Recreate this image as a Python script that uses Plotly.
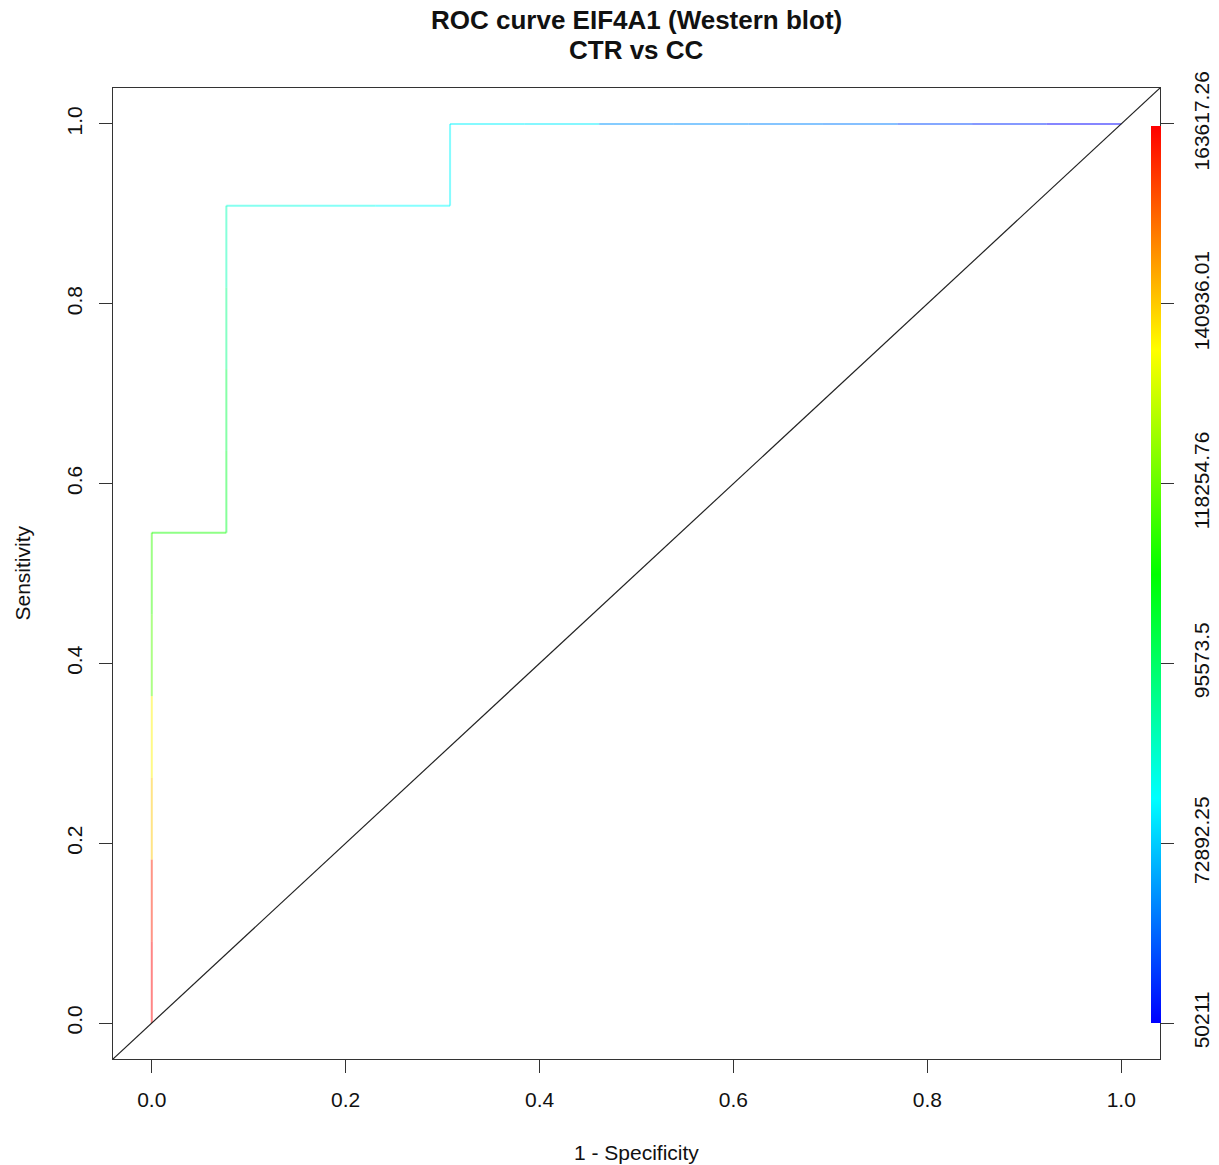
import plotly.graph_objects as go
from plotly.colors import sample_colorscale

# ---- data ----
n_neg = 13
n_pos = 11
# false-positive and true-positive counts along the ROC path
fp_counts = [0, 0, 0, 0, 0, 0, 0, 1, 1, 1, 1, 1, 2, 3, 4, 4, 5, 6, 7, 8, 9, 10, 11, 12, 13]
tp_counts = [0, 1, 2, 3, 4, 5, 6, 6, 7, 8, 9, 10, 10, 10, 10, 11, 11, 11, 11, 11, 11, 11, 11, 11, 11]
# cutoff (threshold) reached at the end of each segment, used for colouring
cutoffs = [163617.26, 160215, 141503, 136400, 115987, 112584, 109182, 102378,
           98974, 92171, 87068, 81965, 80263, 78562, 77996, 77429, 76862,
           66655, 66088, 64954, 63820, 58149, 54747, 50211]
cbar_ticks = [50211, 72892.25, 95573.5, 118254.76, 140936.01, 163617.26]
cbar_ticktext = ["50211", "72892.25", "95573.5", "118254.76", "140936.01", "163617.26"]
axis_ticks = [0.0, 0.2, 0.4, 0.6, 0.8, 1.0]
axis_ticktext = ["0.0", "0.2", "0.4", "0.6", "0.8", "1.0"]

title1 = "ROC curve EIF4A1 (Western blot)"
title2 = "CTR vs CC"

fpr = [c / n_neg for c in fp_counts]
tpr = [c / n_pos for c in tp_counts]
cmin, cmax = min(cutoffs), max(cutoffs)

# rainbow palette (blue -> cyan -> green -> yellow -> red)
rainbow = [[0.0, "rgb(0,0,255)"], [0.25, "rgb(0,255,255)"], [0.5, "rgb(0,255,0)"],
           [0.75, "rgb(255,255,0)"], [1.0, "rgb(255,0,0)"]]

FONT = "Liberation Sans, Arial, Helvetica, sans-serif"
fig = go.Figure()

for i in range(len(cutoffs)):
    t = (cutoffs[i] - cmin) / (cmax - cmin)
    col = sample_colorscale(rainbow, [t])[0]
    fig.add_trace(go.Scatter(
        x=[fpr[i], fpr[i + 1]], y=[tpr[i], tpr[i + 1]], mode="lines",
        line=dict(color=col, width=2), opacity=0.47, showlegend=False,
        hoverinfo="skip"))

# axis ranges with R-style 4% expansion
lo, hi = -0.04, 1.04
span = cmax - cmin
lo2, hi2 = cmin - 0.04 * span, cmax + 0.04 * span

# diagonal reference line (abline 0,1)
fig.add_trace(go.Scatter(x=[lo, hi], y=[lo, hi], mode="lines",
                         line=dict(color="#222222", width=1.2),
                         showlegend=False, hoverinfo="skip"))

# colour bar carrier (invisible markers on the right-hand cutoff axis)
fig.add_trace(go.Scatter(
    x=[0.5, 0.5], y=[cmin, cmax], yaxis="y2", mode="markers", showlegend=False,
    hoverinfo="skip",
    marker=dict(size=1, opacity=0, color=[cmin, cmax], cmin=cmin, cmax=cmax,
                colorscale=rainbow, showscale=True,
                colorbar=dict(
                    x=(1151 - 113) / 1047, xanchor="left", xpad=0, ypad=0,
                    y=(1059 - 574.5) / 971, yanchor="middle",
                    len=897 / 971, lenmode="fraction", thickness=10,
                    outlinewidth=0, ticks="", showticklabels=False))))

axis_common = dict(
    tickmode="array", ticks="outside", ticklen=13, tickcolor="#333333", tickwidth=1,
    showgrid=False, zeroline=False,
    tickfont=dict(family=FONT, size=21, color="#111111"))

# the page body adds an 8px offset, so the figure is 8px smaller on each side
fig.update_layout(
    width=1211, height=1157,
    margin=dict(l=105, r=59, t=80, b=106, autoexpand=False),
    paper_bgcolor="white", plot_bgcolor="white",
    xaxis=dict(**axis_common, range=[lo, hi], tickvals=axis_ticks, ticktext=axis_ticktext,
               showline=True, linecolor="#333333", linewidth=1.2, mirror=True,
               ticklabelstandoff=9),
    yaxis=dict(**axis_common, range=[lo, hi], tickvals=axis_ticks, ticktext=axis_ticktext,
               showline=True, linecolor="#333333", linewidth=1.2, mirror=True,
               tickangle=-90, ticklabelstandoff=9),
    yaxis2=dict(**axis_common, range=[lo2, hi2], tickvals=cbar_ticks,
                ticktext=cbar_ticktext, overlaying="y", side="right", anchor="x",
                showline=False, tickangle=-90, ticklabelstandoff=10),
    annotations=[
        dict(text="<b>" + title1 + "</b>", xref="paper", yref="paper", x=0.5,
             y=(1059 - 20) / 971, xanchor="center", yanchor="middle", showarrow=False,
             font=dict(family=FONT, size=26, color="#111111")),
        dict(text="<b>" + title2 + "</b>", xref="paper", yref="paper", x=0.5,
             y=(1059 - 50) / 971, xanchor="center", yanchor="middle", showarrow=False,
             font=dict(family=FONT, size=26, color="#111111")),
        dict(text="1 - Specificity", xref="paper", yref="paper", x=0.5,
             y=(1059 - 1152) / 971, xanchor="center", yanchor="middle", showarrow=False,
             font=dict(family=FONT, size=21, color="#111111")),
        dict(text="Sensitivity", xref="paper", yref="paper", x=(22 - 113) / 1047,
             y=0.5, xanchor="center", yanchor="middle", textangle=-90, showarrow=False,
             font=dict(family=FONT, size=21, color="#111111")),
    ],
)

fig.write_html("out.html")
